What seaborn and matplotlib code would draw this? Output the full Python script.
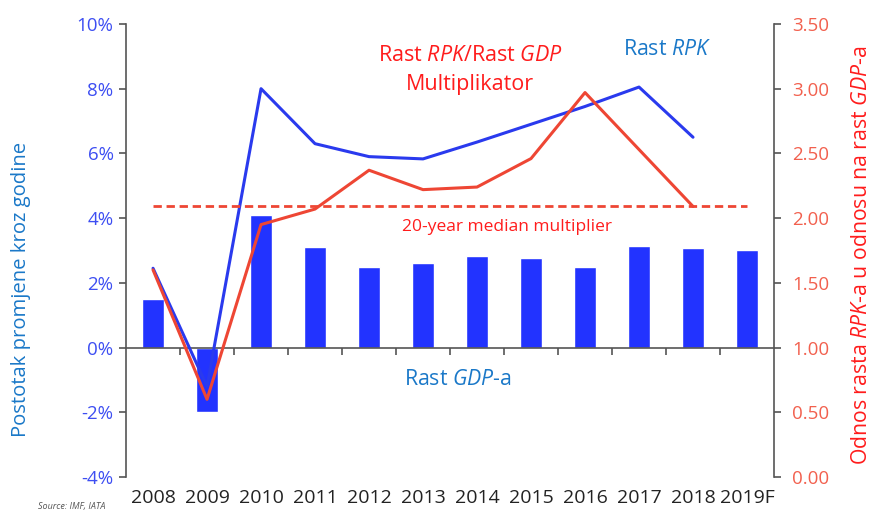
import numpy as np
import matplotlib
matplotlib.use("Agg")
import matplotlib.pyplot as plt
import seaborn as sns
import pandas as pd

# data
years = ["2008", "2009", "2010", "2011", "2012", "2013", "2014",
         "2015", "2016", "2017", "2018", "2019F"]
gdp_growth = [1.5, -2.0, 4.1, 3.1, 2.5, 2.62, 2.82, 2.78, 2.5, 3.15, 3.09, 3.0]
rpk_growth = [2.45, -1.2, 8.0, 6.3, 5.9, 5.83, 6.35, 6.9, 7.45, 8.05, 6.5]
multiplier = [1.6, 0.6, 1.95, 2.07, 2.37, 2.22, 2.24, 2.46, 2.97, 2.53, 2.09]
median_mult = 2.09

left_ticks = [-4, -2, 0, 2, 4, 6, 8, 10]
right_ticks = [0.0, 0.5, 1.0, 1.5, 2.0, 2.5, 3.0, 3.5]

BAR_BLUE = "#2233ff"
LINE_BLUE = "#2a3aee"
LINE_RED = "#ee4634"
TXT_RED = "#ff1c1c"
TXT_BLUE = "#1a78c8"
TICK_BLUE = "#3d4ef2"
TICK_RED = "#f2604e"
SPINE = "#555555"

sns.set_style("white")
plt.rcParams["font.family"] = ["Open Sans", "DejaVu Sans"]
plt.rcParams["mathtext.fontset"] = "custom"
plt.rcParams["mathtext.rm"] = "Open Sans"
plt.rcParams["mathtext.it"] = "Open Sans:italic"

idx = np.arange(len(years))
bars = pd.DataFrame({"year": years, "gdp": gdp_growth})
rpk = pd.DataFrame({"x": idx[:len(rpk_growth)], "rpk": rpk_growth})
mult = pd.DataFrame({"x": idx[:len(multiplier)], "m": multiplier})
med = pd.DataFrame({"x": idx, "m": [median_mult] * len(years)})

fig = plt.figure(figsize=(8.74, 5.12), dpi=100)
ax = fig.add_axes([0.1442, 0.0684, 0.7414, 0.8848])

sns.barplot(data=bars, x="year", y="gdp", color=BAR_BLUE, width=0.4,
            saturation=1, ax=ax, zorder=2)
sns.lineplot(data=rpk, x="x", y="rpk", color=LINE_BLUE, lw=2.2, ax=ax, zorder=3)

ax.set_xlim(-0.5, len(years) - 0.5)
ax.set_ylim(-4, 10)
ax.set_yticks(left_ticks)
ax.set_yticklabels([f"{t}%" for t in left_ticks])
ax.tick_params(axis="y", colors=SPINE, labelcolor=TICK_BLUE, labelsize=13.5,
               length=5, width=1.2, direction="out", left=True, pad=4)
ax.set_ylabel("Postotak promjene kroz godine", color=TXT_BLUE, fontsize=14.6)
ax.yaxis.set_label_coords(-0.147, 0.415)
ax.set_xlabel("")

# zero line with category boundary ticks
ax.spines["bottom"].set_position(("data", 0))
ax.spines["bottom"].set_color(SPINE)
ax.spines["bottom"].set_linewidth(1.2)
ax.spines["top"].set_visible(False)
ax.spines["right"].set_visible(False)
ax.spines["left"].set_color(SPINE)
ax.spines["left"].set_linewidth(1.2)
ax.set_xticks(idx)
ax.set_xticklabels([])
ax.tick_params(axis="x", which="major", length=0)
ax.set_xticks(idx[:-1] + 0.5, minor=True)
ax.tick_params(axis="x", which="minor", length=5, width=1.2, color=SPINE,
               direction="out", bottom=True)

sec = ax.secondary_xaxis(0)
sec.set_xticks(idx, labels=years)
sec.tick_params(length=0, labelsize=14, labelcolor="#222222", pad=9)
sec.spines["bottom"].set_visible(False)

ax2 = ax.twinx()
sns.lineplot(data=mult, x="x", y="m", color=LINE_RED, lw=2.2, ax=ax2, zorder=3)
sns.lineplot(data=med, x="x", y="m", color=LINE_RED, lw=2.0, ax=ax2,
             dashes=False, linestyle=(0, (3, 1.7)))
ax2.set_ylim(0, 3.5)
ax2.set_xlim(-0.5, len(years) - 0.5)
ax2.set_yticks(right_ticks)
ax2.set_yticklabels([f"{t:.2f}" for t in right_ticks])
ax2.tick_params(axis="y", colors=SPINE, labelcolor=TICK_RED, labelsize=13.5,
                length=5, width=1.2, direction="out", right=True, pad=8)
ax2.set_xlabel("")
ax2.set_ylabel(r"Odnos rasta $\mathit{RPK}$-a u odnosu na rast $\mathit{GDP}$-a",
               color=TXT_RED, fontsize=15.3)
ax2.yaxis.set_label_coords(1.119, 0.49)
for s in ["top", "bottom", "left"]:
    ax2.spines[s].set_visible(False)
ax2.spines["right"].set_color(SPINE)
ax2.spines["right"].set_linewidth(1.2)

# annotations
ax2.text(5.87, 3.26, r"Rast $\mathit{RPK}$/Rast $\mathit{GDP}$", color=TXT_RED,
         fontsize=15.5, ha="center", va="center")
ax2.text(5.87, 3.03, "Multiplikator", color=TXT_RED, fontsize=15.5,
         ha="center", va="center")
ax2.text(9.52, 3.30, r"Rast $\mathit{RPK}$", color=TXT_BLUE, fontsize=15.3,
         ha="center", va="center")
ax2.text(6.55, 1.93, "20-year median multiplier", color=TXT_RED, fontsize=12.5,
         ha="center", va="center")
ax2.text(5.65, 0.75, r"Rast $\mathit{GDP}$-a", color=TXT_BLUE, fontsize=15.3,
         ha="center", va="center")

fig.text(0.043, 0.002, "Source: IMF, IATA", fontsize=6.5, style="italic",
         color="#555555", ha="left", va="bottom")

fig.savefig("out.png", dpi=100)
